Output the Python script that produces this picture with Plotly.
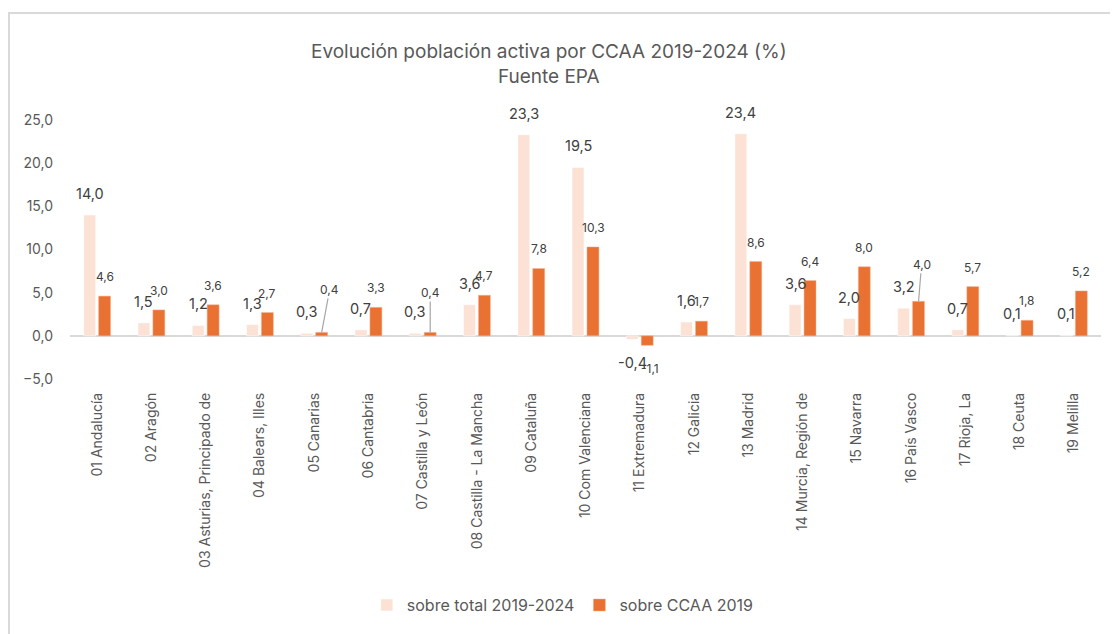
import plotly.graph_objects as go

categories = ["01 Andalucía", "02 Aragón", "03 Asturias, Principado de", "04 Balears, Illes",
              "05 Canarias", "06 Cantabria", "07 Castilla y León", "08 Castilla - La Mancha",
              "09 Cataluña", "10 Com Valenciana", "11 Extremadura", "12 Galicia", "13 Madrid",
              "14 Murcia, Región de", "15 Navarra", "16 País Vasco", "17 Rioja, La", "18 Ceuta",
              "19 Melilla"]
sobre_total = [14.0, 1.5, 1.2, 1.3, 0.3, 0.7, 0.3, 3.6, 23.3, 19.5, -0.4, 1.6, 23.4, 3.6, 2.0, 3.2, 0.7, 0.1, 0.1]
sobre_ccaa = [4.6, 3.0, 3.6, 2.7, 0.4, 3.3, 0.4, 4.7, 7.8, 10.3, -1.1, 1.7, 8.6, 6.4, 8.0, 4.0, 5.7, 1.8, 5.2]
series_names = ["sobre total 2019-2024", "sobre CCAA 2019"]
y_ticks = [-5, 0, 5, 10, 15, 20, 25]

LIGHT = "#FBE2D5"
DARK = "#E97132"
TXT = "#595959"
LBL = "#404040"
FONT = "Inter, Open Sans, sans-serif"

fig = go.Figure()
fig.add_trace(go.Bar(x=categories, y=sobre_total, name=series_names[0],
                     marker=dict(color=LIGHT, line=dict(color="#FFFFFF", width=0.5))))
fig.add_trace(go.Bar(x=categories, y=sobre_ccaa, name=series_names[1],
                     marker=dict(color=DARK, line=dict(color="#F6B38F", width=0.5))))

def fmt(v):
    return f"{v:.1f}".replace(".", ",")

# leader-line labels (category index -> (ax, ay))
leaders = {4: (8, -43), 6: (0, -40), 15: (3, -37)}

annotations = []
for i, cat in enumerate(categories):
    v = sobre_total[i]
    if v >= 0:
        annotations.append(dict(x=cat, y=v, xref="x", yref="y", text=fmt(v), showarrow=False,
                                xshift=-7.5, yshift=11, yanchor="bottom",
                                font=dict(size=14.5, color=LBL, family=FONT)))
    else:
        annotations.append(dict(x=cat, y=0, xref="x", yref="y", text=fmt(v), showarrow=False,
                                xshift=-7, yshift=-16, yanchor="top",
                                font=dict(size=14.5, color=LBL, family=FONT)))
    w = sobre_ccaa[i]
    if i in leaders:
        ax, ay = leaders[i]
        annotations.append(dict(x=cat, y=w, xref="x", yref="y", text=fmt(w), showarrow=True,
                                arrowhead=0, arrowwidth=1.2, arrowcolor="#A6A6A6",
                                ax=ax, ay=ay, xshift=7.5, standoff=0, startstandoff=0,
                                font=dict(size=12, color=LBL, family=FONT)))
    elif w >= 0:
        annotations.append(dict(x=cat, y=w, xref="x", yref="y", text=fmt(w), showarrow=False,
                                xshift=7.5, yshift=10, yanchor="bottom",
                                font=dict(size=12, color=LBL, family=FONT)))
    else:
        annotations.append(dict(x=cat, y=w, xref="x", yref="y", text=fmt(w), showarrow=False,
                                xshift=10.5, yshift=-14, yanchor="top",
                                font=dict(size=12, color=LBL, family=FONT)))

annotations.append(dict(xref="paper", yref="paper", x=0.4646, y=1.216, xanchor="center", yanchor="middle",
                        text="Evolución población activa por CCAA 2019-2024 (%)<br>Fuente EPA",
                        showarrow=False, align="center",
                        font=dict(size=19, color=TXT, family=FONT)))

fig.update_layout(
    width=1110, height=626,
    margin=dict(l=62, r=17, t=112, b=255),
    paper_bgcolor="white", plot_bgcolor="white",
    separators=",.",
    barmode="group", bargap=0.45, bargroupgap=0.2,
    font=dict(family=FONT, color=TXT),
    showlegend=True,
    legend=dict(orientation="h", x=0.478, xanchor="center", y=-0.873, yanchor="middle",
                font=dict(size=16, color=TXT, family=FONT), itemwidth=30,
                traceorder="normal"),
    annotations=annotations,
    shapes=[dict(type="rect", xref="paper", yref="paper", x0=-0.0592, x1=1.2, y0=-1.3, y1=1.413,
                 line=dict(color="#D9D9D9", width=2), fillcolor="rgba(0,0,0,0)", layer="below")],
)
fig.update_xaxes(tickangle=-90, tickfont=dict(size=14, color=TXT, family=FONT),
                 showline=False, showgrid=False, ticks="", ticklabelstandoff=10)
fig.update_yaxes(range=[-5, 25], tickvals=y_ticks, tickformat=".1f",
                 tickfont=dict(size=14, color=TXT, family=FONT),
                 showgrid=False, zeroline=True, zerolinecolor="#D9D9D9", zerolinewidth=2,
                 showline=False, ticks="", ticklabelstandoff=16)

fig.write_html("out.html")
